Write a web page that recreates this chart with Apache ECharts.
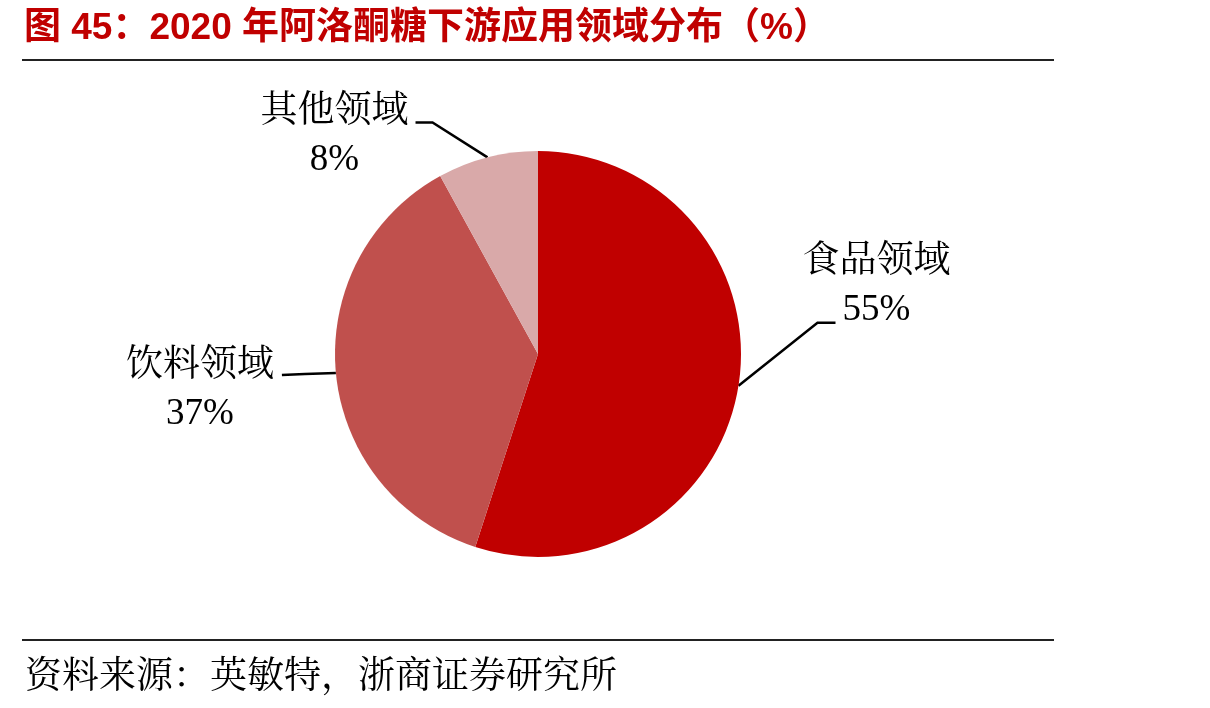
<!DOCTYPE html>
<html>
<head>
<meta charset="utf-8">
<script src="https://cdn.jsdelivr.net/npm/echarts@6/dist/echarts.min.js"></script>
<style>
  html, body { margin: 0; padding: 0; background: #fff; }
  #chart { width: 1210px; height: 708px; }
</style>
</head>
<body>
<div id="chart"></div>
<script>
// 数据
var categories = ['食品领域', '饮料领域', '其他领域'];
var shares = [55, 37, 8];
var colors = ['#C00000', '#C0504D', '#D9A9A9'];

// 引导线拐点、终点和文字中心，相对扇区边缘点的偏移
var labelOffsets = [
  { bend: [79, -63], end: [97, -63], text: [138, -99] },
  { bend: [-31, 1], end: [-54, 2], text: [-136, 17] },
  { bend: [-55, -35], end: [-72, -35], text: [-153, -21] }
];

var serifFont = "'Liberation Serif', 'Noto Serif CJK SC', 'Noto Sans CJK SC', serif";
var pieCenter = [538, 354];
var pieRadius = 203;

// 扇区中点在边缘上的位置（备用）
function edgePoint(i) {
  var total = shares.reduce(function (a, b) { return a + b; }, 0);
  var before = 0;
  for (var k = 0; k < i; k++) before += shares[k];
  var ang = (before + shares[i] / 2) / total * Math.PI * 2;
  return [pieCenter[0] + pieRadius * Math.sin(ang), pieCenter[1] - pieRadius * Math.cos(ang)];
}

var myChart = echarts.init(document.getElementById('chart'));
var option = {
  animation: false,
  backgroundColor: '#fff',
  title: [
    {
      text: '图 45：2020 年阿洛酮糖下游应用领域分布（%）',
      left: 19,
      top: 5,
      textStyle: {
        color: '#C00000',
        fontSize: 37,
        fontWeight: 'bold',
        fontFamily: "'Liberation Sans', 'Noto Sans CJK SC', sans-serif"
      }
    },
    {
      text: '资料来源：英敏特，浙商证券研究所',
      left: 20,
      top: 655,
      textStyle: {
        color: '#000',
        fontSize: 37,
        fontWeight: 'normal',
        fontFamily: serifFont
      }
    }
  ],
  graphic: [
    { type: 'rect', shape: { x: 22, y: 59, width: 1032, height: 2 }, style: { fill: '#222' } },
    { type: 'rect', shape: { x: 22, y: 639, width: 1032, height: 2 }, style: { fill: '#222' } }
  ],
  series: [
    {
      type: 'pie',
      center: pieCenter,
      radius: pieRadius,
      startAngle: 90,
      clockwise: true,
      avoidLabelOverlap: false,
      data: categories.map(function (c, i) {
        return { name: c, value: shares[i], itemStyle: { color: colors[i] } };
      }),
      label: {
        show: true,
        position: 'outside',
        formatter: '{b}\n{c}%',
        color: '#000',
        fontSize: 37,
        lineHeight: 48,
        fontFamily: serifFont,
        align: 'center'
      },
      labelLine: {
        show: true,
        length: 30,
        length2: 20,
        lineStyle: { color: '#000', width: 2.5 }
      },
      labelLayout: function (params) {
        var i = params.dataIndex;
        var p0 = (params.labelLinePoints && params.labelLinePoints[0]) || edgePoint(i);
        var o = labelOffsets[i];
        return {
          x: p0[0] + o.text[0],
          y: p0[1] + o.text[1],
          align: 'center',
          verticalAlign: 'middle',
          labelLinePoints: [
            [p0[0], p0[1]],
            [p0[0] + o.bend[0], p0[1] + o.bend[1]],
            [p0[0] + o.end[0], p0[1] + o.end[1]]
          ]
        };
      }
    }
  ]
};
myChart.setOption(option);
</script>
</body>
</html>
